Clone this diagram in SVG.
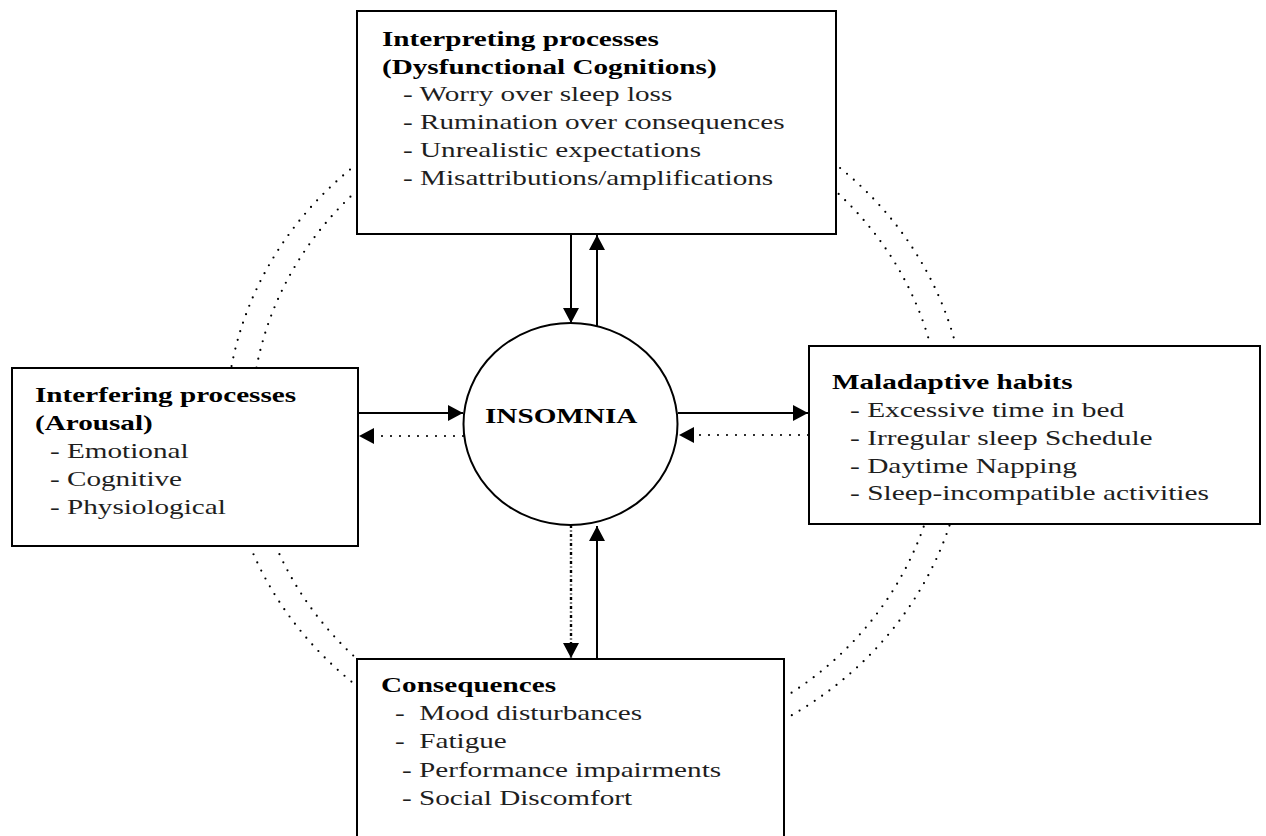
<svg xmlns="http://www.w3.org/2000/svg" width="1266" height="836" viewBox="0 0 1266 836">
<style>
.box{fill:#fff;stroke:#000;stroke-width:2}
.t{font-family:"Liberation Serif","Times New Roman",serif;font-size:21px;font-weight:bold;fill:#000}
.i{font-family:"Liberation Serif","Times New Roman",serif;font-size:21px;fill:#1e1e1e}
.solid{fill:none;stroke:#000;stroke-width:2}
.dot{fill:none;stroke:#000;stroke-width:2.2;stroke-linecap:round;stroke-dasharray:0 9}
.dashdot{fill:none;stroke:#000;stroke-width:2.4;stroke-dasharray:3 2.5 1 2.5}
</style>
<defs>
<marker id="ah" markerUnits="userSpaceOnUse" markerWidth="16" markerHeight="16" refX="15" refY="8" orient="auto">
<path d="M0,0 L15,8 L0,16 z" fill="#000"/>
</marker>
</defs>
<g id="arcs">
<path class="dot" d="M357,164 A370,342 0 0 0 231.2,368"/>
<path class="dot" d="M250,546 A370,342 0 0 0 357,686"/>
<path class="dot" d="M784,719.6 A370,342 0 0 0 950,524"/>
<path class="dot" d="M956,346 A370,342 0 0 0 836,164.7"/>
<path class="dot" d="M357,190.6 A345,325 0 0 0 256.4,368"/>
<path class="dot" d="M275.8,546 A345,325 0 0 0 357,659"/>
<path class="dot" d="M784,697.5 A345,325 0 0 0 924.6,524"/>
<path class="dot" d="M930.6,346 A345,325 0 0 0 836,191.5"/>
</g>
<g id="connectors">
<line class="solid" x1="571" y1="234" x2="571" y2="323" marker-end="url(#ah)"/>
<line class="solid" x1="597" y1="326" x2="597" y2="235" marker-end="url(#ah)"/>
<line class="solid" x1="358" y1="413" x2="463" y2="413" marker-end="url(#ah)"/>
<line class="dot" x1="463" y1="436" x2="359" y2="436" marker-end="url(#ah)"/>
<line class="solid" x1="678" y1="413" x2="808" y2="413" marker-end="url(#ah)"/>
<line class="dot" x1="808" y1="435" x2="679" y2="435" marker-end="url(#ah)"/>
<line class="dashdot" x1="571" y1="525" x2="571" y2="658" marker-end="url(#ah)"/>
<line class="solid" x1="597" y1="659" x2="597" y2="526" marker-end="url(#ah)"/>
</g>
<g id="interpreting">
<rect class="box" x="357" y="11" width="479" height="223"/>
<text class="t" transform="translate(382,46) scale(1.39,1)">Interpreting processes</text>
<text class="t" transform="translate(382,74) scale(1.39,1)">(Dysfunctional Cognitions)</text>
<text class="i" transform="translate(403,101) scale(1.39,1)">- Worry over sleep loss</text>
<text class="i" transform="translate(403,129) scale(1.39,1)">- Rumination over consequences</text>
<text class="i" transform="translate(403,157) scale(1.39,1)">- Unrealistic expectations</text>
<text class="i" transform="translate(403,185) scale(1.39,1)">- Misattributions/amplifications</text>
</g>
<g id="interfering">
<rect class="box" x="12" y="368" width="346" height="178"/>
<text class="t" transform="translate(35,402) scale(1.39,1)">Interfering processes</text>
<text class="t" transform="translate(35,430) scale(1.39,1)">(Arousal)</text>
<text class="i" transform="translate(50,458) scale(1.39,1)">- Emotional</text>
<text class="i" transform="translate(50,486) scale(1.39,1)">- Cognitive</text>
<text class="i" transform="translate(50,514) scale(1.39,1)">- Physiological</text>
</g>
<g id="maladaptive">
<rect class="box" x="809" y="346" width="451" height="178"/>
<text class="t" transform="translate(832,389) scale(1.39,1)">Maladaptive habits</text>
<text class="i" transform="translate(850,417) scale(1.4,1)">- Excessive time in bed</text>
<text class="i" transform="translate(850,445) scale(1.4,1)">- Irregular sleep Schedule</text>
<text class="i" transform="translate(850,473) scale(1.4,1)">- Daytime Napping</text>
<text class="i" transform="translate(850,500) scale(1.4,1)">- Sleep-incompatible activities</text>
</g>
<g id="consequences">
<rect class="box" x="357" y="659" width="427" height="190"/>
<text class="t" transform="translate(381,692) scale(1.39,1)">Consequences</text>
<text class="i" transform="translate(395,720) scale(1.39,1)" xml:space="preserve">-  Mood disturbances</text>
<text class="i" transform="translate(395,748) scale(1.39,1)" xml:space="preserve">-  Fatigue</text>
<text class="i" transform="translate(402,777) scale(1.39,1)">- Performance impairments</text>
<text class="i" transform="translate(402,805) scale(1.39,1)">- Social Discomfort</text>
</g>
<g id="insomnia">
<ellipse cx="570.5" cy="424" rx="107" ry="101" fill="#fff" stroke="#000" stroke-width="2"/>
<text class="t" transform="translate(485,423) scale(1.39,1)">INSOMNIA</text>
</g>
</svg>
